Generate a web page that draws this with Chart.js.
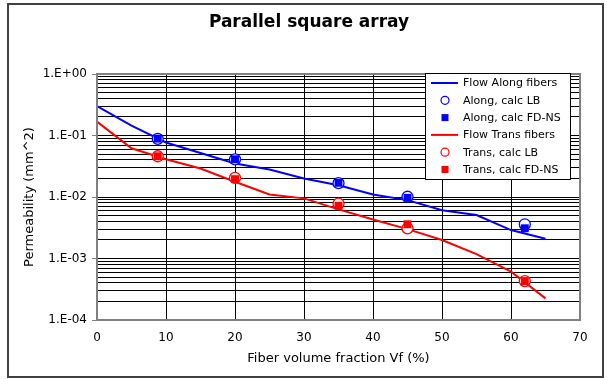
<!DOCTYPE html>
<html>
<head>
<meta charset="utf-8">
<script src="https://cdn.jsdelivr.net/npm/chart.js@4.4.1/dist/chart.umd.min.js"></script>
<style>
  body { margin: 0; background: #fff; }
  canvas { display: block; }
</style>
</head>
<body>
<canvas id="permChart" width="607" height="379"></canvas>
<script>
const chartTitle = "Parallel square array";
const xTitle = "Fiber volume fraction Vf (%)";
const yTitle = "Permeability (mm^2)";

// model curves
const lineVf = [0, 5, 10, 15, 20, 25, 30, 35, 40, 45, 50, 55, 60, 65];
const flowAlong = [0.30, 0.145, 0.077, 0.052, 0.035, 0.028, 0.020, 0.0155, 0.011, 0.0089, 0.0061, 0.0051, 0.0029, 0.0021];
const flowTrans = [0.168, 0.062, 0.041, 0.029, 0.0177, 0.011, 0.0095, 0.0063, 0.0043, 0.0030, 0.0020, 0.00118, 0.00061, 0.000225];

// calculated points
const calcVf = [8.8, 20, 35, 45, 62];
const alongLB = [0.088, 0.041, 0.0168, 0.0101, 0.0036];
const alongFD = [0.089, 0.041, 0.017, 0.0097, 0.0031];
const transLB = [0.046, 0.0205, 0.0078, 0.0031, 0.00043];
const transFD = [0.046, 0.0195, 0.0072, 0.0036, 0.00043];

const xTicks = [0, 10, 20, 30, 40, 50, 60, 70];
const yMajor = [1e-4, 1e-3, 1e-2, 1e-1, 1];
const yTickLabels = ["1.E-04", "1.E-03", "1.E-02", "1.E-01", "1.E+00"];

const BLUE = "#0000ff";
const RED = "#ff0000";
const FONT = "'DejaVu Sans', Verdana, sans-serif";

const toPoints = (xs, ys) => xs.map((x, i) => ({ x: x, y: ys[i] }));

// minor gridlines 2..9 in each decade
const yGridValues = [];
yMajor.forEach((v, i) => {
  yGridValues.push(v);
  if (i < yMajor.length - 1) {
    for (let m = 2; m <= 9; m++) yGridValues.push(v * m);
  }
});

const lineSet = (label, data, color) => ({
  label: label,
  data: toPoints(lineVf, data),
  borderColor: color,
  borderWidth: 2,
  pointRadius: 0,
  showLine: true,
  tension: 0,
  order: 3,
  legendType: "line",
});

const markSet = (label, data, color, style) => ({
  label: label,
  data: toPoints(calcVf, data),
  borderColor: color,
  backgroundColor: style === "circle" ? "#ffffff" : color,
  borderWidth: style === "circle" ? 1.3 : 0,
  pointStyle: style,
  pointRadius: style === "circle" ? 5.5 : 5.6,
  showLine: false,
  order: style === "circle" ? 2 : 1,
  legendType: style,
});

const frameAndTitle = {
  id: "frameAndTitle",
  beforeDraw(chart) {
    const ctx = chart.ctx;
    ctx.save();
    ctx.fillStyle = "#fff";
    ctx.fillRect(0, 0, chart.width, chart.height);
    ctx.strokeStyle = "#404040";
    ctx.lineWidth = 2;
    ctx.strokeRect(8, 4, 595, 373);
    ctx.restore();
  },
  afterDraw(chart) {
    const ctx = chart.ctx;
    const a = chart.chartArea;
    ctx.save();
    // plot frame
    ctx.strokeStyle = "#808080";
    ctx.lineWidth = 2;
    ctx.strokeRect(a.left, a.top, a.right - a.left, a.bottom - a.top);
    // title
    ctx.fillStyle = "#000";
    ctx.font = "bold 17px " + FONT;
    ctx.textAlign = "center";
    ctx.textBaseline = "middle";
    ctx.fillText(chartTitle, 309, 23);

    // legend box
    const bx = 425, by = 73, bw = 145, bh = 106;
    ctx.fillStyle = "#fff";
    ctx.fillRect(bx, by, bw, bh);
    ctx.strokeStyle = "#000";
    ctx.lineWidth = 1;
    ctx.strokeRect(bx + 0.5, by + 0.5, bw, bh);
    ctx.font = "11px " + FONT;
    ctx.textAlign = "left";
    chart.data.datasets.forEach((ds, i) => {
      const cy = by + 10 + i * 17.3;
      const cx = bx + 20;
      if (ds.legendType === "line") {
        ctx.strokeStyle = ds.borderColor;
        ctx.lineWidth = 2;
        ctx.beginPath();
        ctx.moveTo(bx + 6, cy);
        ctx.lineTo(bx + 33, cy);
        ctx.stroke();
      } else if (ds.legendType === "circle") {
        ctx.strokeStyle = ds.borderColor;
        ctx.lineWidth = 1.2;
        ctx.beginPath();
        ctx.arc(cx, cy, 4, 0, Math.PI * 2);
        ctx.stroke();
      } else {
        ctx.fillStyle = ds.borderColor;
        ctx.fillRect(cx - 3.5, cy - 3.5, 7, 7);
      }
      ctx.fillStyle = "#000";
      ctx.fillText(ds.label, bx + 38, cy + 0.5);
    });
    ctx.restore();
  },
};

new Chart(document.getElementById("permChart").getContext("2d"), {
  type: "scatter",
  data: {
    datasets: [
      lineSet("Flow Along fibers", flowAlong, BLUE),
      markSet("Along, calc LB", alongLB, BLUE, "circle"),
      markSet("Along, calc FD-NS", alongFD, BLUE, "rect"),
      lineSet("Flow Trans fibers", flowTrans, RED),
      markSet("Trans, calc LB", transLB, RED, "circle"),
      markSet("Trans, calc FD-NS", transFD, RED, "rect"),
    ],
  },
  options: {
    responsive: false,
    animation: false,
    layout: { padding: { left: 8, right: 27, top: 74, bottom: 9 } },
    plugins: {
      legend: { display: false },
      tooltip: { enabled: false },
      title: { display: false },
    },
    scales: {
      x: {
        type: "linear",
        min: 0,
        max: 70,
        afterBuildTicks: (scale) => {
          scale.ticks = xTicks.map((v) => ({ value: v }));
        },
        afterFit: (scale) => {
          scale.height = 50;
        },
        ticks: {
          color: "#000",
          padding: 11,
          font: { family: FONT, size: 12 },
          maxRotation: 0,
          autoSkip: false,
        },
        grid: { color: "#000", lineWidth: 1, drawTicks: false },
        border: { display: false },
        title: {
          display: true,
          text: xTitle,
          color: "#000",
          font: { family: FONT, size: 13 },
          padding: { top: 0, bottom: 4 },
        },
      },
      y: {
        type: "logarithmic",
        min: 1e-4,
        max: 1,
        afterBuildTicks: (scale) => {
          scale.ticks = yGridValues.map((v) => ({ value: v }));
        },
        afterFit: (scale) => {
          scale.width = 89;
        },
        ticks: {
          color: "#000",
          padding: 5,
          autoSkip: false,
          font: { family: FONT, size: 12 },
          callback: (value) => {
            const idx = yMajor.findIndex((m) => Math.abs(m - value) / m < 1e-6);
            return idx >= 0 ? yTickLabels[idx] : "";
          },
        },
        grid: {
          color: "#000",
          lineWidth: 1,
          tickLength: 5,
          tickColor: (ctx) => {
            const v = ctx.tick ? ctx.tick.value : 0;
            return yMajor.some((m) => Math.abs(m - v) / m < 1e-6) ? "#808080" : "rgba(0,0,0,0)";
          },
        },
        border: { display: false },
        title: {
          display: true,
          text: yTitle,
          color: "#000",
          font: { family: FONT, size: 13 },
          padding: { top: 14, bottom: 0 },
        },
      },
    },
  },
  plugins: [frameAndTitle],
});
</script>
</body>
</html>
